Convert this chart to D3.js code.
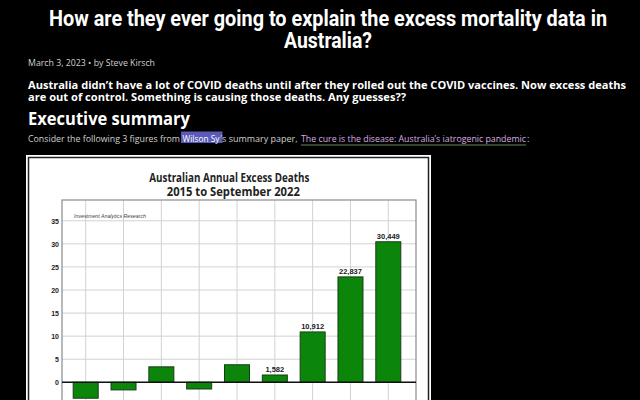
<!DOCTYPE html>
<html>
<head>
<meta charset="utf-8">
<script src="https://cdn.jsdelivr.net/npm/d3@7"></script>
<style>
html,body{margin:0;padding:0;background:#000;overflow:hidden;}
svg{display:block;}
</style>
</head>
<body>
<svg id="page" width="640" height="400"></svg>
<script>
// ---- data ----
const categories = ["2014","2015","2016","2017","2018","2019","2020","2021","2022"];
const excessThousands = [-3.45, -1.65, 3.35, -1.45, 3.8, 1.582, 10.912, 22.837, 30.449];
const valueLabels = ["", "", "", "", "", "1,582", "10,912", "22,837", "30,449"];
const yTicks = [0, 5, 10, 15, 20, 25, 30, 35];

const pageTitle = ["How are they ever going to explain the excess mortality data in", "Australia?"];
const byline = "March 3, 2023 \u2022 by Steve Kirsch";
const lede = ["Australia didn\u2019t have a lot of COVID deaths until after they rolled out the COVID vaccines. Now excess deaths",
              "are out of control. Something is causing those deaths. Any guesses??"];
const heading = "Executive summary";
const consider = ["Consider the following 3 figures from ", "Wilson Sy", "\u2019s summary paper, ", "The cure is the disease: Australia\u2019s iatrogenic pandemic", ":"];
const chartTitle = ["Australian Annual Excess Deaths", "2015 to September 2022"];
const watermark = "Investment Analytics Research";

const svg = d3.select("#page");
svg.append("rect").attr("width",640).attr("height",400).attr("fill","#000");

function txt(g, s, x, y, o) {
  const t = g.append("text").attr("x", x).attr("y", y).text(s)
    .attr("font-family", o.family).attr("font-size", o.size)
    .attr("font-weight", o.weight || "normal").attr("fill", o.fill)
    .attr("text-anchor", o.anchor || "start");
  if (o.style) t.attr("font-style", o.style);
  if (o.len) t.attr("textLength", o.len).attr("lengthAdjust", "spacingAndGlyphs");
  return t;
}

// ---- page text ----
txt(svg, pageTitle[0], 328, 26, {family:"Roboto", size:22, weight:"bold", fill:"#fff", anchor:"middle", len:558});
txt(svg, pageTitle[1], 328, 48, {family:"Roboto", size:22, weight:"bold", fill:"#fff", anchor:"middle", len:88});
txt(svg, byline, 28, 66, {family:"Open Sans", size:9, fill:"#d0d0d0", len:127});
txt(svg, lede[0], 28, 89, {family:"Open Sans", size:11, weight:"bold", fill:"#fff", len:598});
txt(svg, lede[1], 28, 100.5, {family:"Open Sans", size:11, weight:"bold", fill:"#fff", len:378});
txt(svg, heading, 28, 124.5, {family:"Open Sans", size:17.5, weight:"bold", fill:"#fff", len:162});

// consider line with highlight and link
svg.append("rect").attr("x",181).attr("y",131.5).attr("width",41.5).attr("height",11.5).attr("fill","#5a5ab8");
txt(svg, consider[0], 28, 142, {family:"Open Sans", size:9.5, fill:"#d0d0d0", len:152});
txt(svg, consider[1], 182.5, 142, {family:"Open Sans", size:9.5, fill:"#fff", len:37});
txt(svg, consider[2], 220.5, 142, {family:"Open Sans", size:9.5, fill:"#d0d0d0", len:77});
txt(svg, consider[3], 301, 142, {family:"Open Sans", size:9.5, fill:"#d8aee0", len:225});
svg.append("line").attr("x1",301).attr("x2",526).attr("y1",145).attr("y2",145)
  .attr("stroke","#5f8a55").attr("stroke-width",1);
txt(svg, consider[4], 527, 142, {family:"Open Sans", size:9.5, fill:"#d0d0d0"});

// ---- embedded chart image ----
const chart = svg.append("g");
chart.append("rect").attr("x",26).attr("y",155).attr("width",405).attr("height",260).attr("fill","#fff");
chart.append("rect").attr("x",28.5).attr("y",157.5).attr("width",400).attr("height",260)
  .attr("fill","none").attr("stroke","#222").attr("stroke-width",1.5);

txt(chart, chartTitle[0], 229.3, 182, {family:"Open Sans", size:12, weight:"bold", fill:"#222", anchor:"middle", len:160});
txt(chart, chartTitle[1], 233.3, 196, {family:"Open Sans", size:12, weight:"bold", fill:"#222", anchor:"middle", len:133});

const plot = {left:62, right:416, top:200, bottom:430};
const y = d3.scaleLinear().domain([-8, 39.5]).range([382.3 + 8*(182.3/39.5), plot.top]);
const x = d3.scalePoint().domain(categories).range([85.7, 388.3]);
const barW = 25;

// horizontal gridlines
chart.append("g").selectAll("line").data(yTicks).join("line")
  .attr("x1", plot.left).attr("x2", plot.right)
  .attr("y1", d => y(d)).attr("y2", d => y(d))
  .attr("stroke", "#d2d2d2").attr("stroke-width", 1);
// vertical gridlines
chart.append("g").selectAll("line").data(categories).join("line")
  .attr("x1", d => x(d)).attr("x2", d => x(d))
  .attr("y1", plot.top).attr("y2", plot.bottom)
  .attr("stroke", "#d2d2d2").attr("stroke-width", 1);
// plot frame
chart.append("rect").attr("x", plot.left).attr("y", plot.top)
  .attr("width", plot.right - plot.left).attr("height", plot.bottom - plot.top)
  .attr("fill", "none").attr("stroke", "#8a8a8a").attr("stroke-width", 1.2);

// y axis via d3.axisLeft
const yAxis = chart.append("g").attr("transform", `translate(${plot.left},0)`)
  .call(d3.axisLeft(y).tickValues(yTicks).tickSize(0).tickPadding(3));
yAxis.select(".domain").remove();
yAxis.selectAll("text").attr("font-family","Liberation Sans, Arial, sans-serif")
  .attr("font-size", 7).attr("font-weight","bold").attr("fill","#222");

txt(chart, watermark, 74, 217.5, {family:"Liberation Sans", size:5.6, style:"italic", fill:"#444", len:72});

// bars
chart.append("g").selectAll("rect").data(excessThousands).join("rect")
  .attr("x", (d,i) => x(categories[i]) - barW/2)
  .attr("y", d => y(Math.max(0,d)))
  .attr("width", barW)
  .attr("height", d => Math.abs(y(d) - y(0)))
  .attr("fill", "#0b860b").attr("stroke", "#173d17").attr("stroke-width", 1);

// zero line
chart.append("line").attr("x1", plot.left).attr("x2", plot.right)
  .attr("y1", y(0)).attr("y2", y(0)).attr("stroke", "#111").attr("stroke-width", 1.5);

// value labels
chart.append("g").selectAll("text").data(excessThousands).join("text")
  .attr("x", (d,i) => x(categories[i]))
  .attr("y", d => y(d) - 3)
  .attr("text-anchor","middle")
  .attr("font-family","Liberation Sans, Arial, sans-serif")
  .attr("font-size", 7.5).attr("font-weight","bold").attr("fill","#1a1a1a")
  .text((d,i) => valueLabels[i]);
</script>
</body>
</html>
